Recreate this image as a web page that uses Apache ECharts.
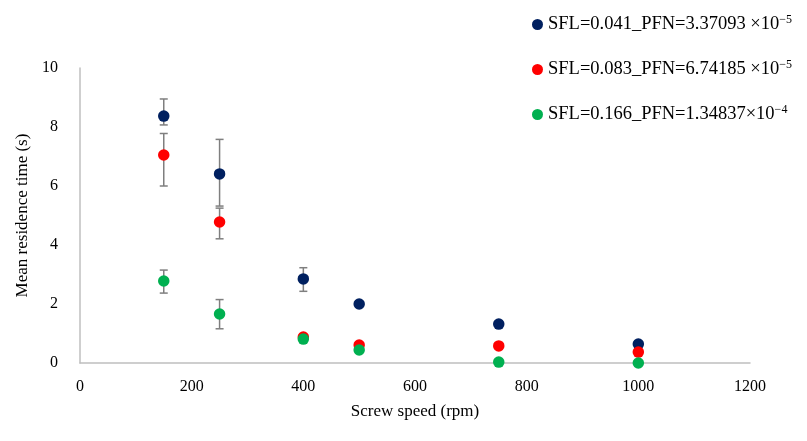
<!DOCTYPE html>
<html><head><meta charset="utf-8">
<script src="https://cdn.jsdelivr.net/npm/echarts@6/dist/echarts.min.js"></script>
<style>html,body{margin:0;padding:0;background:#fff}#c{width:807px;height:441px}</style>
</head><body><div id="c"></div>
<script>
const speeds = [150, 250, 400, 500, 750, 1000];
const seriesNames = ['SFL=0.041_PFN=3.37093 ×10', 'SFL=0.083_PFN=6.74185 ×10', 'SFL=0.166_PFN=1.34837×10'];
const exponents = ['−5', '−5', '−4'];
const colors = ['#002060', '#ff0000', '#00b050'];
const blueVals = [8.37, 6.41, 2.85, 2.0, 1.32, 0.64];
const redVals = [7.05, 4.78, 0.88, 0.61, 0.58, 0.37];
const greenVals = [2.78, 1.66, 0.81, 0.44, 0.03, 0.0];
// error bars: [x, low, high]
const blueErr = [[150, 8.07, 8.95], [250, 5.32, 7.58], [400, 2.43, 3.23]];
const redErr = [[150, 6.0, 7.78], [250, 4.21, 5.25], [750, 0.52, 0.66]];
const greenErr = [[150, 2.37, 3.15], [250, 1.16, 2.15]];

const chart = echarts.init(document.getElementById('c'));
const font = '"Liberation Serif", "DejaVu Serif", serif';

function errSeries(data) {
  return {
    type: 'custom', silent: true, z: 1,
    data: data,
    renderItem: function (params, api) {
      const x = api.value(0), lo = api.value(1), hi = api.value(2);
      const pHi = api.coord([x, hi]), pLo = api.coord([x, lo]);
      const w = 4;
      const st = { stroke: '#7f7f7f', lineWidth: 1.5 };
      return {
        type: 'group',
        children: [
          { type: 'line', shape: { x1: pHi[0], y1: pHi[1], x2: pLo[0], y2: pLo[1] }, style: st },
          { type: 'line', shape: { x1: pHi[0] - w, y1: pHi[1], x2: pHi[0] + w, y2: pHi[1] }, style: st },
          { type: 'line', shape: { x1: pLo[0] - w, y1: pLo[1], x2: pLo[0] + w, y2: pLo[1] }, style: st }
        ]
      };
    }
  };
}

const valsList = [blueVals, redVals, greenVals];
const scatter = valsList.map((v, i) => ({
  name: seriesNames[i], type: 'scatter', symbolSize: 11.5, z: 3,
  itemStyle: { color: colors[i], opacity: 1 },
  data: speeds.map((s, j) => [s, v[j]])
}));

chart.setOption({
  animation: false,
  grid: { left: 80, right: 57, top: 68, bottom: 78 },
  legend: {
    orient: 'vertical', left: 527, top: 9, itemGap: 25,
    icon: 'circle', itemWidth: 11, itemHeight: 11,
    data: seriesNames,
    formatter: function (name) {
      const i = seriesNames.indexOf(name);
      return '{a|' + name + '}{s|' + exponents[i] + '}';
    },
    textStyle: {
      fontFamily: font, fontSize: 18.5, color: '#000',
      rich: {
        a: { fontFamily: font, fontSize: 18.5, color: '#000' },
        s: { fontFamily: font, fontSize: 12, color: '#000', verticalAlign: 'top', padding: [0, 0, 9, 0] }
      }
    }
  },
  xAxis: {
    type: 'value', min: 0, max: 1200, interval: 200,
    name: 'Screw speed (rpm)', nameLocation: 'middle', nameGap: 40,
    nameTextStyle: { fontFamily: font, fontSize: 17, color: '#000' },
    axisLine: { lineStyle: { color: '#bfbfbf', width: 1.5 } },
    axisTick: { show: false },
    splitLine: { show: false },
    axisLabel: { fontFamily: font, fontSize: 16, color: '#000', margin: 16, formatter: v => String(v) }
  },
  yAxis: {
    type: 'value', min: 0, max: 10, interval: 2,
    name: 'Mean residence time (s)', nameLocation: 'middle', nameGap: 48,
    nameTextStyle: { fontFamily: font, fontSize: 17, color: '#000' },
    axisLine: { show: true, lineStyle: { color: '#bfbfbf', width: 1.5 } },
    axisTick: { show: false },
    splitLine: { show: false },
    axisLabel: { fontFamily: font, fontSize: 16, color: '#000', margin: 22 }
  },
  series: [errSeries(blueErr), errSeries(redErr), errSeries(greenErr)].concat(scatter)
});
</script></body></html>
